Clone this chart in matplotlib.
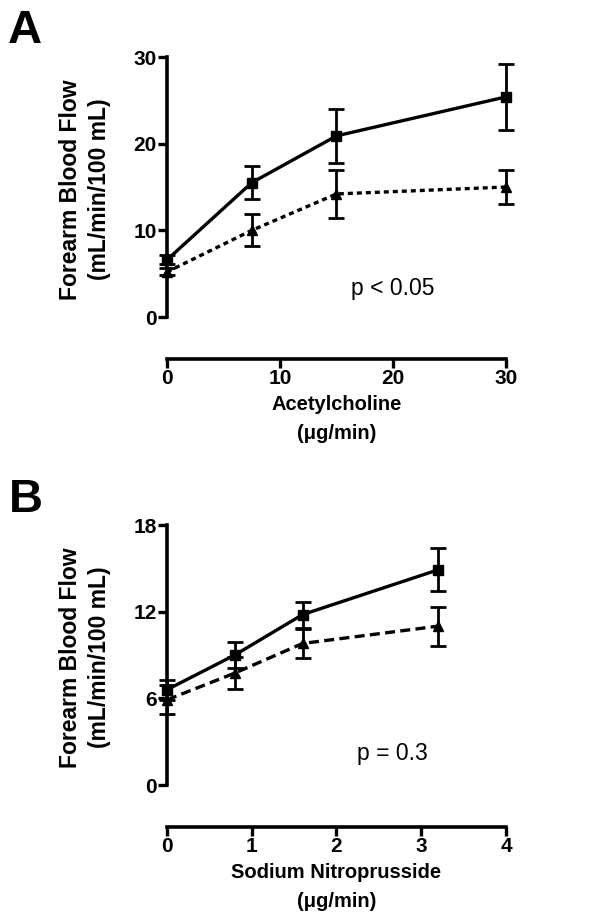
import numpy as np
import matplotlib
matplotlib.use("Agg")
import matplotlib.pyplot as plt

plt.rcParams['font.family'] = ['Liberation Sans', 'DejaVu Sans']

# panel A: acetylcholine
ach_dose = [0, 7.5, 15, 30]
ach_sq = [6.6, 15.5, 20.9, 25.4]
ach_sq_err = [0.5, 1.9, 3.1, 3.85]
ach_tri = [5.2, 10.0, 14.2, 15.0]
ach_tri_err = [0.4, 1.85, 2.75, 2.0]

# panel B: sodium nitroprusside
snp_dose = [0, 0.8, 1.6, 3.2]
snp_sq = [6.6, 9.0, 11.8, 14.9]
snp_sq_err = [0.7, 0.9, 0.9, 1.5]
snp_tri = [5.9, 7.75, 9.8, 11.0]
snp_tri_err = [1.0, 1.1, 1.0, 1.35]


def panel(ax, x, sq, sqe, tri, trie, dash, xlim, xticks, ylim, yticks, xlabel, ptext, py):
    ax.errorbar(x, sq, yerr=sqe, color='black', lw=2.4, marker='s', ms=7.5,
                capsize=5.5, elinewidth=2, capthick=2, clip_on=False, zorder=3)
    ax.errorbar(x, tri, yerr=trie, color='black', lw=2.4, marker='^', ms=7,
                capsize=5.5, elinewidth=2, capthick=2, clip_on=False, zorder=3,
                linestyle=(0, dash))
    ax.set_xlim(*xlim)
    ax.set_ylim(*ylim)
    ax.set_xticks(xticks)
    ax.set_yticks(yticks)
    for s in ['top', 'right']:
        ax.spines[s].set_visible(False)
    ax.spines['left'].set_linewidth(2.6)
    ax.spines['bottom'].set_linewidth(2.6)
    ax.spines['bottom'].set_position(('outward', 30))
    ax.tick_params(width=2.4, length=6.5, labelsize=15, pad=1)
    for lab in ax.get_xticklabels() + ax.get_yticklabels():
        lab.set_fontweight('bold')
    ax.set_ylabel('Forearm Blood Flow\n(mL/min/100 mL)', fontsize=16.5,
                  fontweight='bold', linespacing=1.3)
    ax.yaxis.set_label_coords(-0.166, 0.49)
    ax.set_xlabel(xlabel, fontsize=14.5, fontweight='bold', linespacing=1.65)
    ax.xaxis.set_label_coords(0.5, -0.3)
    ax.text(0.665, py, ptext, transform=ax.transAxes, fontsize=16.5,
            ha='center', va='center')


fig = plt.figure(figsize=(6.16, 9.24), dpi=100)
axA = fig.add_axes([0.2711, 0.6569, 0.5503, 0.2814])
axB = fig.add_axes([0.2711, 0.1504, 0.5503, 0.2814])

panel(axA, ach_dose, ach_sq, ach_sq_err, ach_tri, ach_tri_err, (1.5, 1.2),
      (0, 30), [0, 10, 20, 30], (0, 30), [0, 10, 20, 30],
      'Acetylcholine\n(\u03bcg/min)', 'p < 0.05', 0.11)
panel(axB, snp_dose, snp_sq, snp_sq_err, snp_tri, snp_tri_err, (3, 1.6),
      (0, 4), [0, 1, 2, 3, 4], (0, 18), [0, 6, 12, 18],
      'Sodium Nitroprusside\n(\u03bcg/min)', 'p = 0.3', 0.12)

fig.text(0.012, 1 - 43 / 924, 'A', fontsize=34, fontweight='bold', va='baseline')
fig.text(0.015, 1 - 512 / 924, 'B', fontsize=34, fontweight='bold', va='baseline')

fig.savefig('out.png', dpi=100)
